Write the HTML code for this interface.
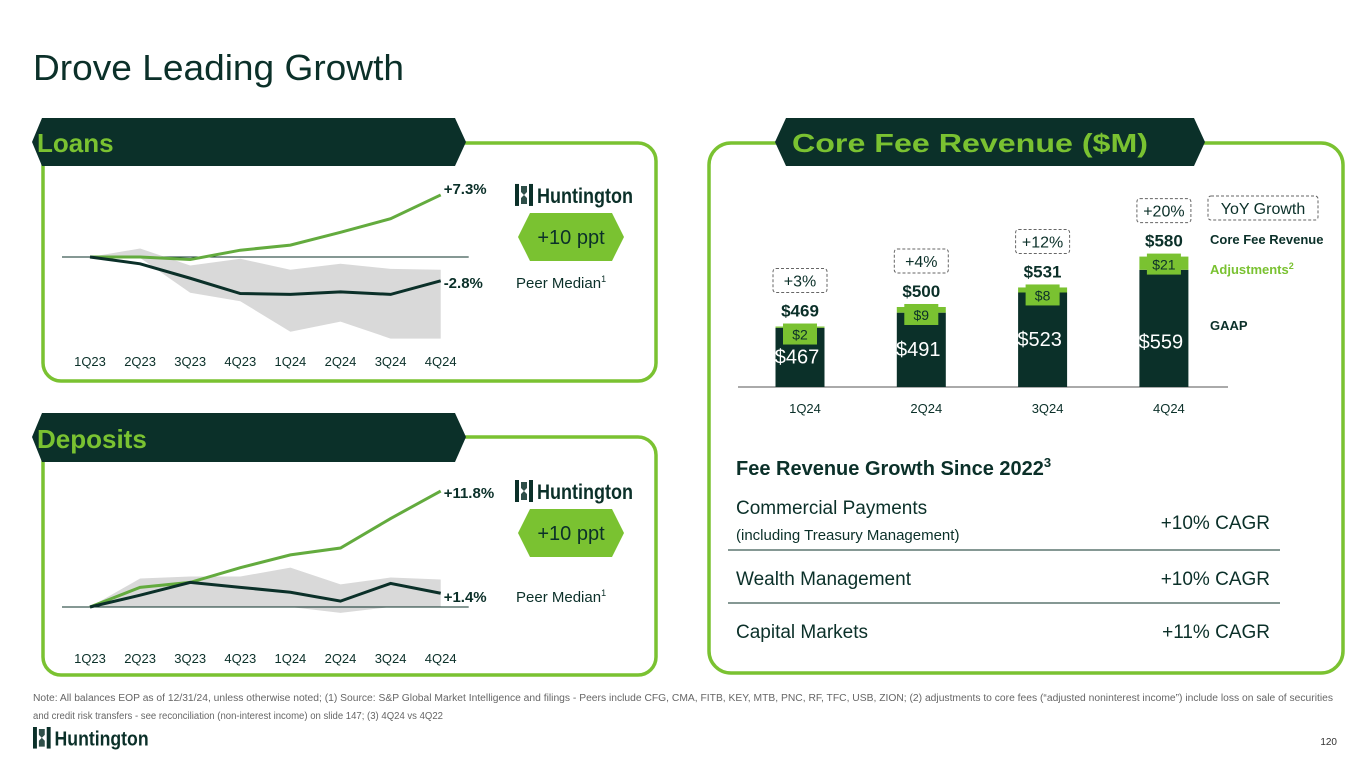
<!DOCTYPE html>
<html><head><meta charset="utf-8"><style>
body{margin:0;background:#fff;}
svg{display:block;font-family:"Liberation Sans",sans-serif;}
</style></head><body>
<svg id="s" width="1365" height="768" viewBox="0 0 1365 768" xmlns="http://www.w3.org/2000/svg">
<text x="33" y="80" font-size="36" fill="#0b3029" textLength="371" lengthAdjust="spacingAndGlyphs">Drove Leading Growth</text>

<!-- Loans panel -->
<rect x="43" y="143" width="613" height="238" rx="18" fill="none" stroke="#7ac231" stroke-width="3.5"/>
<path d="M42,118 H455 L466,142 L455,166 H42 L32,142 Z" fill="#0b3029"/>
<text x="37" y="152" font-size="26" font-weight="bold" fill="#7ac231">Loans</text>
<g id="loans"></g>

<!-- Deposits panel -->
<rect x="43" y="437" width="613" height="238" rx="18" fill="none" stroke="#7ac231" stroke-width="3.5"/>
<path d="M42,413 H455 L466,437 L455,462 H42 L32,437 Z" fill="#0b3029"/>
<text x="37" y="448" font-size="26" font-weight="bold" fill="#7ac231">Deposits</text>
<g id="deposits"></g>

<!-- Right panel -->
<rect x="709" y="143" width="634" height="530" rx="22" fill="none" stroke="#7ac231" stroke-width="3.5"/>
<path d="M786,118 H1194 L1205,142 L1194,166 H786 L775,142 Z" fill="#0b3029"/>
<text x="792" y="152" font-size="26" font-weight="bold" fill="#7ac231" textLength="356" lengthAdjust="spacingAndGlyphs">Core Fee Revenue ($M)</text>
<g id="bars"></g>

<g>
<rect x="1208" y="196" width="110" height="24" rx="3" fill="none" stroke="#666" stroke-dasharray="3,2"/>
<text x="1263" y="214" font-size="16" text-anchor="middle" fill="#0b3029">YoY Growth</text>
<text x="1210" y="244" font-size="13" font-weight="bold" fill="#0b3029">Core Fee Revenue</text>
<text x="1210" y="274" font-size="13" font-weight="bold" fill="#7ac231">Adjustments<tspan font-size="9" dy="-5">2</tspan></text>
<text x="1210" y="330" font-size="13" font-weight="bold" fill="#0b3029">GAAP</text>
</g>

<text x="736" y="475" font-size="20" font-weight="bold" fill="#0b3029">Fee Revenue Growth Since 2022<tspan font-size="13" dy="-8">3</tspan></text>
<g fill="#0b3029" font-size="19">
<text x="736" y="514">Commercial Payments</text>
<text x="736" y="540" font-size="15">(including Treasury Management)</text>
<text x="1270" y="529" text-anchor="end">+10% CAGR</text>
<line x1="728" y1="550" x2="1280" y2="550" stroke="#0b3029" stroke-width="1"/>
<text x="736" y="585">Wealth Management</text>
<text x="1270" y="585" text-anchor="end">+10% CAGR</text>
<line x1="728" y1="603" x2="1280" y2="603" stroke="#0b3029" stroke-width="1"/>
<text x="736" y="638">Capital Markets</text>
<text x="1270" y="638" text-anchor="end">+11% CAGR</text>
</g>

<g font-size="10" fill="#666">
<text x="33" y="701" textLength="1300" lengthAdjust="spacingAndGlyphs">Note: All balances EOP as of 12/31/24, unless otherwise noted; (1) Source: S&amp;P Global Market Intelligence and filings - Peers include CFG, CMA, FITB, KEY, MTB, PNC, RF, TFC, USB, ZION; (2) adjustments to core fees (“adjusted noninterest income”) include loss on sale of securities</text>
<text x="33" y="719" textLength="410" lengthAdjust="spacingAndGlyphs">and credit risk transfers - see reconciliation (non-interest income) on slide 147; (3) 4Q24 vs 4Q22</text>
</g>
<g id="footlogo"></g>
<text x="1337" y="745" font-size="10" fill="#333" text-anchor="end">120</text>
</svg>
<script>
const NS="http://www.w3.org/2000/svg";
const quarters=["1Q23","2Q23","3Q23","4Q23","1Q24","2Q24","3Q24","4Q24"];
const loansHunt=[0,0,-0.3,0.8,1.4,2.9,4.5,7.3];
const loansPeer=[0,-0.8,-2.5,-4.3,-4.4,-4.1,-4.4,-2.8];
const loansBandHi=[0,1.0,-1.0,-0.2,-1.5,-0.8,-1.4,-1.5];
const loansBandLo=[0,-0.1,-4.2,-5.2,-8.8,-7.6,-9.6,-9.6];
const depHunt=[0,2.0,2.5,4.0,5.3,6.0,9.0,11.8];
const depPeer=[0,1.2,2.5,2.0,1.5,0.6,2.4,1.4];
const depBandHi=[0,2.9,3.1,3.1,4.0,2.3,3.0,2.8];
const depBandLo=[0,0,0,0,0,-0.6,0,0];
const feeQuarters=["1Q24","2Q24","3Q24","4Q24"];
const feeGaap=[467,491,523,559];
const feeAdj=[2,9,8,21];
const feeYoY=["+3%","+4%","+12%","+20%"];

function el(tag,attrs,parent,txt){const e=document.createElementNS(NS,tag);for(const k in attrs)e.setAttribute(k,attrs[k]);if(txt!==undefined)e.textContent=txt;parent.appendChild(e);return e;}

function logo(parent,x,y,s){
  const g=el("g",{transform:`translate(${x},${y}) scale(${s})`},parent);
  
  
  el("rect",{x:0,y:0,width:4,height:22,fill:"#0b3029"},g);
  el("rect",{x:14,y:0,width:4,height:22,fill:"#0b3029"},g);
  el("path",{d:"M6,2 L12,2 L12,8 L6,14 Z M6,20 L12,20 L12,14 L6,8 Z",fill:"#0b3029",opacity:0.85},g);
  el("text",{x:22,y:19,"font-size":21,"font-weight":"bold",fill:"#0b3029",textLength:96,lengthAdjust:"spacingAndGlyphs"},g,"Huntington");
}

function lineChart(id,hunt,peer,hi,lo,x0,dx,y0,k,huntLbl,peerLbl,huntLblY,peerLblY){
  const g=document.getElementById(id);
  const X=i=>x0+i*dx, Y=v=>y0-v*k;
  const band=el("polygon",{points:hi.map((v,i)=>X(i)+","+Y(v)).concat(lo.map((v,i)=>X(i)+","+Y(v)).reverse()).join(" "),fill:"#d9d9d9"},g);
  
  
  const zl=el("line",{x1:X(0)-28,y1:y0,x2:X(7)+28,y2:y0,stroke:"#0b3029","stroke-width":1},g);
  
  
  const hl=el("polyline",{points:hunt.map((v,i)=>X(i)+","+Y(v)).join(" "),fill:"none",stroke:"#63ab3e","stroke-width":3},g);
  
  
  const pl=el("polyline",{points:peer.map((v,i)=>X(i)+","+Y(v)).join(" "),fill:"none",stroke:"#0b3029","stroke-width":3},g);
  
  
  quarters.forEach((q,i)=>{
    const t=el("text",{x:X(i),y:y0+ (id==="loans"?109:56),"font-size":13,"text-anchor":"middle",fill:"#0b3029"},g,q);
    
    
  });
  const a=el("text",{x:X(7)+3,y:Y(hunt[7])+huntLblY,"font-size":15,"font-weight":"bold",fill:"#0b3029"},g,huntLbl);
  
  
  const b=el("text",{x:X(7)+3,y:Y(peer[7])+peerLblY,"font-size":15,"font-weight":"bold",fill:"#0b3029"},g,peerLbl);
  
  
  logo(g,515,Y(hunt[7])-11,1);
  const hx=el("path",{d:`M530,${Y(hunt[7])+18} H612 L624,${Y(hunt[7])+42} L612,${Y(hunt[7])+66} H530 L518,${Y(hunt[7])+42} Z`,fill:"#7ac231"},g);
  
  
  el("text",{x:571,y:Y(hunt[7])+49,"font-size":20,"text-anchor":"middle",fill:"#0b3029"},g,"+10 ppt");
  const pm=el("text",{x:516,y:Y(peer[7])+peerLblY,"font-size":15,fill:"#0b3029"},g,"Peer Median");
  
  
  el("tspan",{"font-size":9,dy:-6},pm,"1");
}
lineChart("loans",loansHunt,loansPeer,loansBandHi,loansBandLo,90,50.1,257,8.5,"+7.3%","-2.8%",-1,7);
lineChart("deposits",depHunt,depPeer,depBandHi,depBandLo,90,50.1,607,9.83,"+11.8%","+1.4%",7,9);

(function(){
  const g=document.getElementById("bars");
  const base=387, k=0.63, vmin=373, bw=49, x0=800, dx=121.3;
  const Y=v=>base-(v-vmin)*k;
  const ax=el("line",{x1:738,y1:base,x2:1228,y2:base,stroke:"#777","stroke-width":1.2},g);
  
  
  feeQuarters.forEach((q,i)=>{
    const cx=x0+i*dx, g1=feeGaap[i], tot=g1+feeAdj[i];
    const r=el("rect",{x:cx-bw/2,y:Y(g1),width:bw,height:base-Y(g1),fill:"#0b3029"},g);
    
    
    const a=el("rect",{x:cx-bw/2,y:Y(tot),width:bw,height:Y(g1)-Y(tot),fill:"#7ac231"},g);
    
    
    const lb=el("rect",{x:cx-17,y:Y(tot)-3,width:34,height:21,fill:"#7ac231"},g);
    
    
    el("text",{x:cx,y:Y(tot)+13,"font-size":14,"text-anchor":"middle",fill:"#0b3029"},g,"$"+feeAdj[i]);
    const gv=el("text",{x:cx-3,y:(Y(g1)+base)/2+(i==3?20:6),"font-size":20,"text-anchor":"middle",fill:"#fff"},g,"$"+g1);
    
    
    const tv=el("text",{x:cx,y:Y(tot)-10,"font-size":17,"font-weight":"bold","text-anchor":"middle",fill:"#0b3029"},g,"$"+tot);
    
    
    const by=Y(tot)-58;
    const yb=el("rect",{x:cx-27,y:by,width:54,height:24,rx:3,fill:"none",stroke:"#666","stroke-dasharray":"3,2"},g);
    
    
    el("text",{x:cx,y:by+18,"font-size":16,"text-anchor":"middle",fill:"#0b3029"},g,feeYoY[i]);
    const t=el("text",{x:cx+5,y:413,"font-size":13,"text-anchor":"middle",fill:"#0b3029"},g,q);
    
    
  });
})();
logo(document.getElementById("footlogo"),33,727,0.98);
</script>
</body></html>
